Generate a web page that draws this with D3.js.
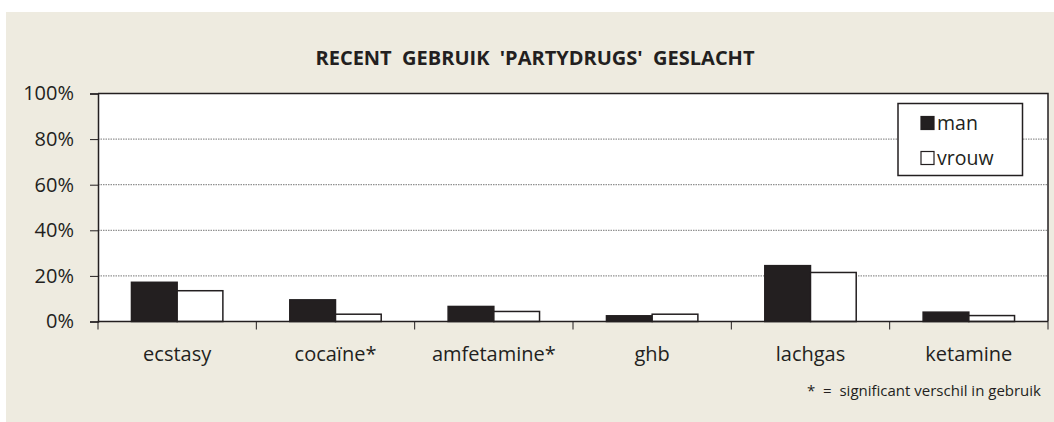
<!DOCTYPE html>
<html>
<head>
<meta charset="utf-8">
<script src="https://cdn.jsdelivr.net/npm/d3@7"></script>
<style>
  html, body { margin: 0; padding: 0; background: #ffffff; }
  svg { display: block; }
  text { font-family: "Open Sans", "Noto Sans", sans-serif; fill: #231f20; }
</style>
</head>
<body>
<svg id="chart" width="1054" height="422"></svg>
<script>
// Recent use of party drugs, by sex (% of respondents)
const categories = ["ecstasy", "cocaïne*", "amfetamine*", "ghb", "lachgas", "ketamine"];
const seriesNames = ["man", "vrouw"];
const manValues = [17.2, 9.5, 6.6, 2.5, 24.5, 4.1];
const vrouwValues = [13.5, 3.2, 4.4, 3.2, 21.5, 2.6];
const yTicks = [0, 20, 40, 60, 80, 100];
const titleText = "RECENT  GEBRUIK  'PARTYDRUGS'  GESLACHT";
const noteText = "* = significant verschil in gebruik";

const ink = "#231f20";
const svg = d3.select("#chart");

// panel background
svg.append("rect")
  .attr("x", 6).attr("y", 12).attr("width", 1048).attr("height", 410)
  .attr("fill", "#eeebe0");

const plot = { left: 98, right: 1048, top: 93.5, bottom: 321.5 };

const x = d3.scaleBand().domain(categories).range([plot.left, plot.right]).paddingInner(0).paddingOuter(0);
const inner = d3.scaleBand().domain(seriesNames).range([0, x.bandwidth()]).paddingInner(0).paddingOuter(0.732);
const y = d3.scaleLinear().domain([0, 100]).range([plot.bottom, plot.top]);

// plot area
svg.append("rect")
  .attr("x", plot.left).attr("y", plot.top)
  .attr("width", plot.right - plot.left).attr("height", plot.bottom - plot.top)
  .attr("fill", "#ffffff");

// dotted gridlines
svg.append("g")
  .selectAll("line")
  .data(yTicks.filter(t => t > 0 && t < 100))
  .join("line")
  .attr("x1", plot.left).attr("x2", plot.right)
  .attr("y1", d => y(d)).attr("y2", d => y(d))
  .attr("stroke", "#777")
  .attr("stroke-width", 1)
  .attr("stroke-dasharray", "1.5,1");

// bars
const rows = categories.map((c, i) => ({ cat: c, values: [manValues[i], vrouwValues[i]] }));
const groups = svg.append("g").selectAll("g")
  .data(rows)
  .join("g")
  .attr("transform", d => `translate(${x(d.cat)},0)`);

groups.selectAll("rect")
  .data(d => d.values.map((v, j) => ({ name: seriesNames[j], v })))
  .join("rect")
  .attr("x", d => inner(d.name))
  .attr("y", d => y(d.v))
  .attr("width", inner.bandwidth())
  .attr("height", d => y(0) - y(d.v))
  .attr("fill", d => d.name === "man" ? ink : "#ffffff")
  .attr("stroke", ink)
  .attr("stroke-width", 1.5);

// plot frame (top and right edges)
svg.append("path")
  .attr("d", `M${plot.left},${plot.top}H${plot.right}V${plot.bottom}`)
  .attr("fill", "none")
  .attr("stroke", ink)
  .attr("stroke-width", 1.5);

// y axis
const yAxis = d3.axisLeft(y).tickValues(yTicks).tickFormat(d => d + "%").tickSize(8).tickPadding(16);
const gy = svg.append("g").attr("transform", `translate(${plot.left},0)`).call(yAxis);
gy.select(".domain").attr("stroke", ink).attr("stroke-width", 1.5);
gy.selectAll(".tick line").attr("stroke", ink).attr("stroke-width", 1);
gy.selectAll(".tick text").attr("font-size", 20).style("fill", ink).attr("font-family", "\"Open Sans\", sans-serif");

// x axis with ticks on category boundaries
const gx = svg.append("g").attr("transform", `translate(0,${plot.bottom})`);
gx.append("line")
  .attr("x1", plot.left).attr("x2", plot.right)
  .attr("stroke", ink).attr("stroke-width", 1.5);
const boundaries = categories.map(c => x(c)).concat([plot.right]);
gx.selectAll("line.b")
  .data(boundaries)
  .join("line")
  .attr("class", "b")
  .attr("x1", d => d).attr("x2", d => d)
  .attr("y1", 0).attr("y2", 8)
  .attr("stroke", ink).attr("stroke-width", 1);
gx.selectAll("text")
  .data(categories)
  .join("text")
  .attr("x", d => x(d) + x.bandwidth() / 2)
  .attr("y", 39.5)
  .attr("text-anchor", "middle")
  .attr("font-size", 20)
  .text(d => d);

// title
svg.append("text")
  .attr("x", 535).attr("y", 65)
  .attr("text-anchor", "middle")
  .attr("font-size", 20)
  .attr("font-weight", "bold")
  .style("white-space", "pre")
  .attr("xml:space", "preserve")
  .text(titleText);

// legend
const legend = svg.append("g").attr("transform", "translate(898,103.5)");
legend.append("rect")
  .attr("width", 124.5).attr("height", 72)
  .attr("fill", "#ffffff")
  .attr("stroke", ink).attr("stroke-width", 1.5);
const items = legend.selectAll("g.item")
  .data(seriesNames)
  .join("g")
  .attr("class", "item")
  .attr("transform", (d, i) => `translate(23,${13 + i * 35})`);
items.append("rect")
  .attr("width", 13).attr("height", 13)
  .attr("fill", d => d === "man" ? ink : "#ffffff")
  .attr("stroke", ink).attr("stroke-width", 1.2);
items.append("text")
  .attr("x", 16).attr("y", 13)
  .attr("font-size", 19.5)
  .text(d => d);

// footnote
svg.append("text")
  .attr("x", 1041).attr("y", 396)
  .attr("text-anchor", "end")
  .attr("font-size", 15)
  .style("white-space", "pre")
  .text(noteText.replace(" = ", "  =  "));
</script>
</body>
</html>
